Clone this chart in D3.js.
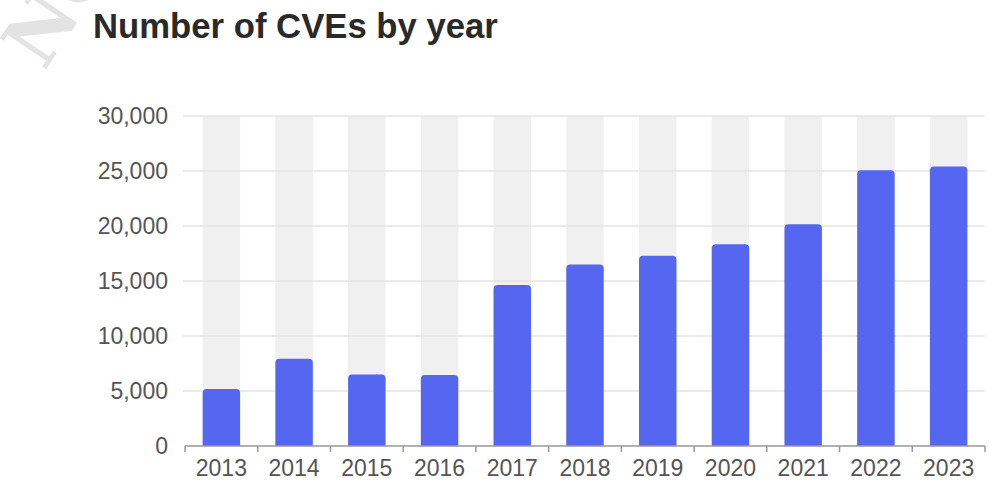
<!DOCTYPE html>
<html>
<head>
<meta charset="utf-8">
<script src="https://cdn.jsdelivr.net/npm/d3@7"></script>
<style>
  html, body { margin: 0; padding: 0; background: #fff; }
  svg { display: block; }
</style>
</head>
<body>
<svg id="chart" width="989" height="488"></svg>
<script>
// CVEs published per year
const years = ["2013", "2014", "2015", "2016", "2017", "2018", "2019", "2020", "2021", "2022", "2023"];
const cveCounts = [5191, 7939, 6504, 6454, 14643, 16509, 17305, 18350, 20155, 25059, 25400];
const yTicks = [0, 5000, 10000, 15000, 20000, 25000, 30000];
const titleText = "Number of CVEs by year";
const watermarkText = "NO";

const svg = d3.select("#chart");
const margin = { left: 185, right: 4, top: 116, bottom: 42 };
const W = 989, H = 488;
const sans = "'Liberation Sans', Arial, Helvetica, sans-serif";

const x = d3.scaleBand()
  .domain(years)
  .range([margin.left, W - margin.right])
  .paddingInner(0.485)
  .paddingOuter(0.2425);

const y = d3.scaleLinear()
  .domain([0, 30000])
  .range([H - margin.bottom, margin.top]);

// faint watermark lettering in the corner
svg.append("text")
  .attr("transform", "translate(44,72) rotate(-56)")
  .attr("font-family", "'DejaVu Serif', 'Liberation Serif', serif")
  .attr("font-weight", "bold")
  .attr("font-size", 76)
  .attr("fill", "#e3e3e3")
  .text(watermarkText);

// title
svg.append("text")
  .attr("x", 93)
  .attr("y", 38)
  .attr("font-family", sans)
  .attr("font-weight", "bold")
  .attr("font-size", 34.7)
  .attr("fill", "#2a2a2a")
  .text(titleText);

// shaded column behind each bar
svg.append("g")
  .selectAll("rect")
  .data(years)
  .join("rect")
  .attr("x", d => x(d))
  .attr("width", x.bandwidth())
  .attr("y", y(30000))
  .attr("height", y(0) - y(30000))
  .attr("fill", "#f0f0f0");

// horizontal gridlines
svg.append("g")
  .selectAll("line")
  .data(yTicks.filter(t => t > 0))
  .join("line")
  .attr("x1", margin.left - 2)
  .attr("x2", W - margin.right)
  .attr("y1", d => y(d))
  .attr("y2", d => y(d))
  .attr("stroke", "#e4e4e4")
  .attr("stroke-width", 1.5);

// y-axis labels
const yAxis = d3.axisLeft(y)
  .tickValues(yTicks)
  .tickFormat(d3.format(","))
  .tickSize(0)
  .tickPadding(17);

const gy = svg.append("g")
  .attr("transform", `translate(${margin.left},0)`)
  .call(yAxis);
gy.select(".domain").remove();
gy.selectAll("text")
  .attr("font-family", sans)
  .attr("font-size", 23)
  .attr("fill", "#555");

// bars with rounded top corners
const r = 4;
function barPath(d, i) {
  const x0 = x(years[i]);
  const w = x.bandwidth();
  const yTop = y(d);
  const yBot = y(0);
  return `M${x0},${yBot} V${yTop + r} Q${x0},${yTop} ${x0 + r},${yTop} H${x0 + w - r} Q${x0 + w},${yTop} ${x0 + w},${yTop + r} V${yBot} Z`;
}
svg.append("g")
  .selectAll("path")
  .data(cveCounts)
  .join("path")
  .attr("d", (d, i) => barPath(d, i))
  .attr("fill", "#5567f1");

// x axis with ticks at band boundaries
const gx = svg.append("g")
  .attr("transform", `translate(0,${y(0)})`);
gx.append("line")
  .attr("x1", margin.left)
  .attr("x2", W - margin.right)
  .attr("stroke", "#999")
  .attr("stroke-width", 1.5);
const bounds = years.map(d => x(d) - x.step() * x.paddingInner() / 2);
bounds.push(W - margin.right);
gx.selectAll("line.tick")
  .data(bounds)
  .join("line")
  .attr("class", "tick")
  .attr("x1", d => d)
  .attr("x2", d => d)
  .attr("y1", 0)
  .attr("y2", 6)
  .attr("stroke", "#999")
  .attr("stroke-width", 1.5);
gx.selectAll("text")
  .data(years)
  .join("text")
  .attr("x", d => x(d) + x.bandwidth() / 2)
  .attr("y", 30)
  .attr("text-anchor", "middle")
  .attr("font-family", sans)
  .attr("font-size", 23)
  .attr("fill", "#555")
  .text(d => d);
</script>
</body>
</html>
